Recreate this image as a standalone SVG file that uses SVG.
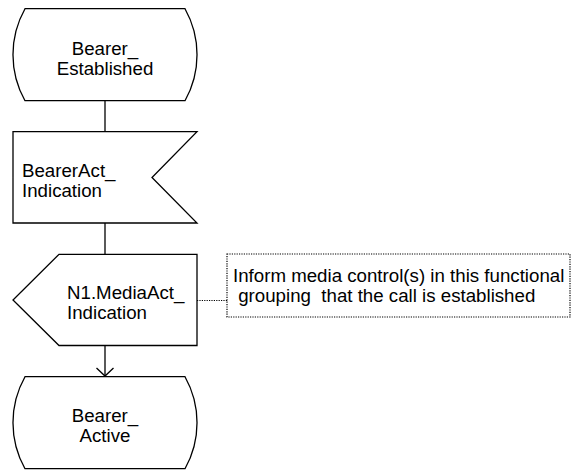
<svg xmlns="http://www.w3.org/2000/svg" width="572" height="470" viewBox="0 0 572 470">
<defs>
<style>
.shape{fill:#fff;stroke:#000;stroke-width:1.3}
.t{font-family:"Liberation Sans",Arial,sans-serif;font-size:18.7px;fill:#000}
.c{text-anchor:middle}
.line{stroke:#000;stroke-width:1.3;fill:none}
.dot{stroke:#000;stroke-width:1.2;fill:none;stroke-dasharray:1.2 1.2}
</style>
<marker id="open" markerWidth="20" markerHeight="20" refX="10" refY="10" orient="auto" markerUnits="userSpaceOnUse">
<path d="M2,1.5 L10,10 L2,18.5" fill="none" stroke="#000" stroke-width="1.3"/>
</marker>
</defs>
<g id="connectors">
<line class="line" x1="105" y1="100.7" x2="105" y2="131.7"/>
<line class="line" x1="105" y1="223" x2="105" y2="254.3"/>
<line class="line" x1="105" y1="345.5" x2="105" y2="376" marker-end="url(#open)"/>
<line class="dot" x1="197" y1="300.5" x2="227" y2="300.5"/>
</g>
<g id="state_established">
<path class="shape" d="M25,8.7 L185,8.7 A94,94 0 0 1 185,100.7 L25,100.7 A94,94 0 0 1 25,8.7 Z"/>
<text class="t c" x="105" y="54.5">Bearer_</text>
<text class="t c" x="105" y="74.5">Established</text>
</g>
<g id="input_bearerAct">
<polygon class="shape" points="13,131.7 197,131.7 152,177.5 197,223 13,223"/>
<text class="t" x="22" y="176.5">BearerAct_</text>
<text class="t" x="22" y="196.5">Indication</text>
</g>
<g id="output_mediaAct">
<polygon class="shape" points="59,254.3 197,254.3 197,345.5 59,345.5 13,300"/>
<text class="t" x="67" y="298.5">N1.MediaAct_</text>
<text class="t" x="67" y="318.5">Indication</text>
</g>
<g id="comment">
<rect class="dot" x="227" y="254" width="343" height="63"/>
<text class="t" x="233" y="281.5">Inform media control(s) in this functional</text>
<text class="t" x="233" y="302" xml:space="preserve"> grouping  that the call is established</text>
</g>
<g id="state_active">
<path class="shape" d="M25,376.7 L185,376.7 A94,94 0 0 1 185,468.7 L25,468.7 A94,94 0 0 1 25,376.7 Z"/>
<text class="t c" x="105" y="421.5">Bearer_</text>
<text class="t c" x="105" y="441.5">Active</text>
</g>
</svg>
